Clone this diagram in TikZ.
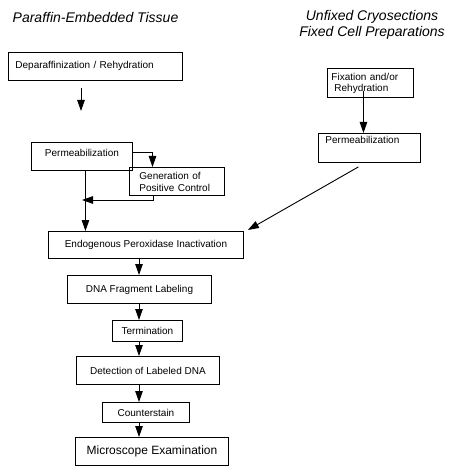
\documentclass[tikz,border=0pt]{standalone}
\usepackage{fontspec}
\setmainfont{Liberation Sans}
\usetikzlibrary{arrows.meta}

\begin{document}
\begin{tikzpicture}[x=1pt,y=1pt]
\tikzstyle{every node}+=[inner sep=0pt]
\tikzstyle{stepbox}=[draw=black, line width=0.9pt, anchor=north west, font=\fontsize{10}{12}\selectfont]
\tikzstyle{flow}=[draw=black, line width=0.9pt, -{Triangle[length=11pt,width=7.5pt]}]
\tikzstyle{heading}=[font=\fontsize{14}{16}\selectfont\itshape, align=center]
\useasboundingbox (0,0) rectangle (452,-473);
\node [heading] (paraffin) at (95.5,-18) {Paraffin-Embedded Tissue};
\node [heading] (unfixed) at (372,-25) {Unfixed Cryosections\\Fixed Cell Preparations};
\node [stepbox, inner xsep=7pt, text width=160pt, align=left, text height=15.6pt, text depth=12.4pt] (depar) at (8,-52) {Deparaffinization / Rehydration};
\node [stepbox, inner xsep=4pt, text width=78pt, align=left, minimum height=29pt, font=\fontsize{10}{11}\selectfont] (fix) at (327,-68) {Fixation and/or\\\hspace*{3pt}Rehydration};
\node [stepbox, inner xsep=7pt, text width=88pt, align=left, text height=10.5pt, text depth=18.5pt] (permb) at (318,-133) {Permeabilization};
\node [stepbox, minimum width=101pt, text height=13.6pt, text depth=14.4pt] (perma) at (31,-142) {Permeabilization};
\node [stepbox, inner xsep=10pt, text width=75pt, align=left, minimum height=28pt] (gen) at (129,-167) {Generation of\\Positive Control};
\node [stepbox, minimum width=195pt, minimum height=27pt] (endo) at (48,-231) {Endogenous Peroxidase Inactivation};
\node [stepbox, minimum width=144pt, minimum height=28pt] (dna) at (67,-275) {DNA Fragment Labeling};
\node [stepbox, minimum width=70pt, minimum height=21pt] (term) at (112,-320) {Termination};
\node [stepbox, minimum width=143pt, minimum height=28pt] (detect) at (76,-356) {Detection of Labeled DNA};
\node [stepbox, minimum width=87pt, minimum height=20pt] (counter) at (102,-402) {Counterstain};
\node [stepbox, minimum width=153pt, minimum height=28pt, font=\fontsize{12}{14}\selectfont] (micro) at (75,-437) {Microscope Examination};
\coordinate (dropA) at (81,-88);
\coordinate (dropB) at (81,-111);
\coordinate (merge) at (82,-200);
\coordinate (drop) at ([xshift=3.5pt]perma.south);
\coordinate (spine) at (139,0);
\draw [flow] (dropA) -- (dropB);
\draw [flow] ([xshift=-7pt,yshift=7pt]fix.south) -- ([xshift=-6pt]permb.north);
\draw [flow] ([xshift=-11pt,yshift=-4pt]permb.south) -- ([xshift=4pt,yshift=1pt]endo.north east);
\draw [flow] ([yshift=4.3pt]perma.east) -| ([xshift=23.5pt]gen.north west);
\draw [flow] ([xshift=24pt]gen.south west) |- (merge);
\draw [flow] (drop) -- (drop |- endo.north);
\draw [flow] (endo.south -| spine) -- (dna.north -| spine);
\draw [flow] (dna.south -| spine) -- (term.north -| spine);
\draw [flow] (term.south -| spine) -- (detect.north -| spine);
\draw [flow] (detect.south -| spine) -- (counter.north -| spine);
\draw [flow] (counter.south -| spine) -- (micro.north -| spine);
\end{tikzpicture}
\end{document}
